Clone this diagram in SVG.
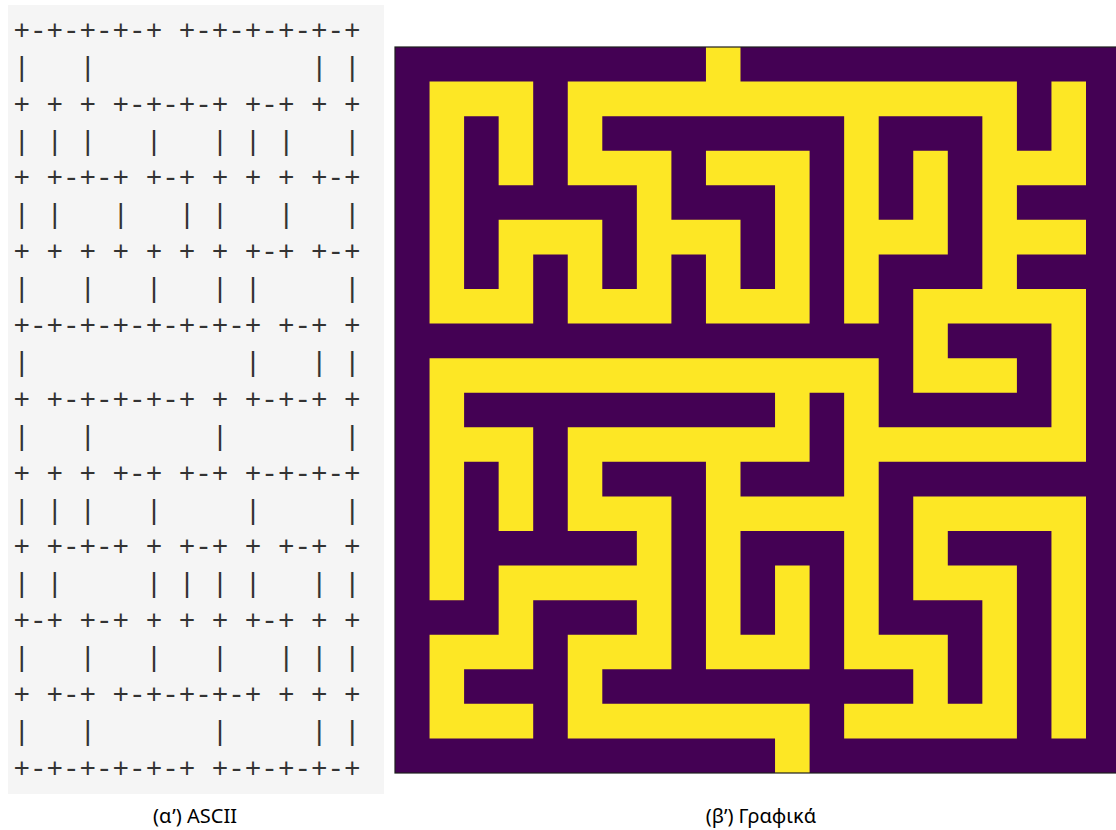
<svg xmlns="http://www.w3.org/2000/svg" width="1116" height="830" viewBox="0 0 1116 830">
<style>
.bg{fill:#ffffff}
.panel{fill:#f5f5f5}
.asc{font-family:"Liberation Mono","DejaVu Sans Mono",monospace;font-size:27.56px;fill:#333333;white-space:pre}
.wall{fill:#440154}
.path{fill:#fde725}
.frame{fill:none;stroke:#1e1e1e;stroke-width:1.2}
.cap{font-family:"Noto Sans","Liberation Sans",sans-serif;font-size:20px;fill:#000000;text-anchor:middle}
</style>
<rect class="bg" x="0" y="0" width="1116" height="830"/>
<g id="ascii-panel">
<rect class="panel" x="8" y="5" width="376" height="789"/>
<text class="asc" xml:space="preserve" x="13.4" y="38.8">+-+-+-+-+ +-+-+-+-+-+</text>
<text class="asc" xml:space="preserve" x="13.4" y="75.7">|   |             | |</text>
<text class="asc" xml:space="preserve" x="13.4" y="112.6">+ + + +-+-+-+ +-+ + +</text>
<text class="asc" xml:space="preserve" x="13.4" y="149.5">| | |   |   | | |   |</text>
<text class="asc" xml:space="preserve" x="13.4" y="186.4">+ +-+-+ +-+ + + + +-+</text>
<text class="asc" xml:space="preserve" x="13.4" y="223.3">| |   |   | |   |   |</text>
<text class="asc" xml:space="preserve" x="13.4" y="260.2">+ + + + + + + +-+ +-+</text>
<text class="asc" xml:space="preserve" x="13.4" y="297.1">|   |   |   | |     |</text>
<text class="asc" xml:space="preserve" x="13.4" y="334.0">+-+-+-+-+-+-+-+ +-+ +</text>
<text class="asc" xml:space="preserve" x="13.4" y="370.9">|             |   | |</text>
<text class="asc" xml:space="preserve" x="13.4" y="407.8">+ +-+-+-+-+ + +-+-+ +</text>
<text class="asc" xml:space="preserve" x="13.4" y="444.7">|   |       |       |</text>
<text class="asc" xml:space="preserve" x="13.4" y="481.6">+ + + +-+ +-+ +-+-+-+</text>
<text class="asc" xml:space="preserve" x="13.4" y="518.5">| | |   |     |     |</text>
<text class="asc" xml:space="preserve" x="13.4" y="555.4">+ +-+-+ + +-+ + +-+ +</text>
<text class="asc" xml:space="preserve" x="13.4" y="592.3">| |     | | | |   | |</text>
<text class="asc" xml:space="preserve" x="13.4" y="629.2">+-+ +-+ + + + +-+ + +</text>
<text class="asc" xml:space="preserve" x="13.4" y="666.1">|   |   |   |   | | |</text>
<text class="asc" xml:space="preserve" x="13.4" y="703.0">+ +-+ +-+-+-+-+ + + +</text>
<text class="asc" xml:space="preserve" x="13.4" y="739.9">|   |       |     | |</text>
<text class="asc" xml:space="preserve" x="13.4" y="776.8">+-+-+-+-+-+ +-+-+-+-+</text>
</g>
<g id="maze-graphic">
<svg x="395" y="47" width="725.55" height="726" viewBox="0 0 21 21" preserveAspectRatio="none">
<rect class="wall" x="0" y="0" width="21" height="21"/>
<path class="path" d="M9 0h1v1h-1z
M1 1h3v1h-3z M5 1h13v1h-13z M19 1h1v1h-1z
M1 2h1v1h-1z M3 2h1v1h-1z M5 2h1v1h-1z M13 2h1v1h-1z M17 2h1v1h-1z M19 2h1v1h-1z
M1 3h1v1h-1z M3 3h1v1h-1z M5 3h3v1h-3z M9 3h3v1h-3z M13 3h1v1h-1z M15 3h1v1h-1z M17 3h3v1h-3z
M1 4h1v1h-1z M7 4h1v1h-1z M11 4h1v1h-1z M13 4h1v1h-1z M15 4h1v1h-1z M17 4h1v1h-1z
M1 5h1v1h-1z M3 5h3v1h-3z M7 5h3v1h-3z M11 5h1v1h-1z M13 5h3v1h-3z M17 5h3v1h-3z
M1 6h1v1h-1z M3 6h1v1h-1z M5 6h1v1h-1z M7 6h1v1h-1z M9 6h1v1h-1z M11 6h1v1h-1z M13 6h1v1h-1z M17 6h1v1h-1z
M1 7h3v1h-3z M5 7h3v1h-3z M9 7h3v1h-3z M13 7h1v1h-1z M15 7h5v1h-5z
M15 8h1v1h-1z M19 8h1v1h-1z
M1 9h13v1h-13z M15 9h3v1h-3z M19 9h1v1h-1z
M1 10h1v1h-1z M11 10h1v1h-1z M13 10h1v1h-1z M19 10h1v1h-1z
M1 11h3v1h-3z M5 11h7v1h-7z M13 11h7v1h-7z
M1 12h1v1h-1z M3 12h1v1h-1z M5 12h1v1h-1z M9 12h1v1h-1z M13 12h1v1h-1z
M1 13h1v1h-1z M3 13h1v1h-1z M5 13h3v1h-3z M9 13h5v1h-5z M15 13h5v1h-5z
M1 14h1v1h-1z M7 14h1v1h-1z M9 14h1v1h-1z M13 14h1v1h-1z M15 14h1v1h-1z M19 14h1v1h-1z
M1 15h1v1h-1z M3 15h5v1h-5z M9 15h1v1h-1z M11 15h1v1h-1z M13 15h1v1h-1z M15 15h3v1h-3z M19 15h1v1h-1z
M3 16h1v1h-1z M7 16h1v1h-1z M9 16h1v1h-1z M11 16h1v1h-1z M13 16h1v1h-1z M17 16h1v1h-1z M19 16h1v1h-1z
M1 17h3v1h-3z M5 17h3v1h-3z M9 17h3v1h-3z M13 17h3v1h-3z M17 17h1v1h-1z M19 17h1v1h-1z
M1 18h1v1h-1z M5 18h1v1h-1z M15 18h1v1h-1z M17 18h1v1h-1z M19 18h1v1h-1z
M1 19h3v1h-3z M5 19h7v1h-7z M13 19h5v1h-5z M19 19h1v1h-1z
M11 20h1v1h-1z"/>
</svg>
<rect class="frame" x="395" y="47" width="725.55" height="726"/>
</g>
<g id="captions">
<text class="cap" x="195" y="823">(α’) ASCII</text>
<text class="cap" x="761" y="823">(β’) Γραφικά</text>
</g>
</svg>
